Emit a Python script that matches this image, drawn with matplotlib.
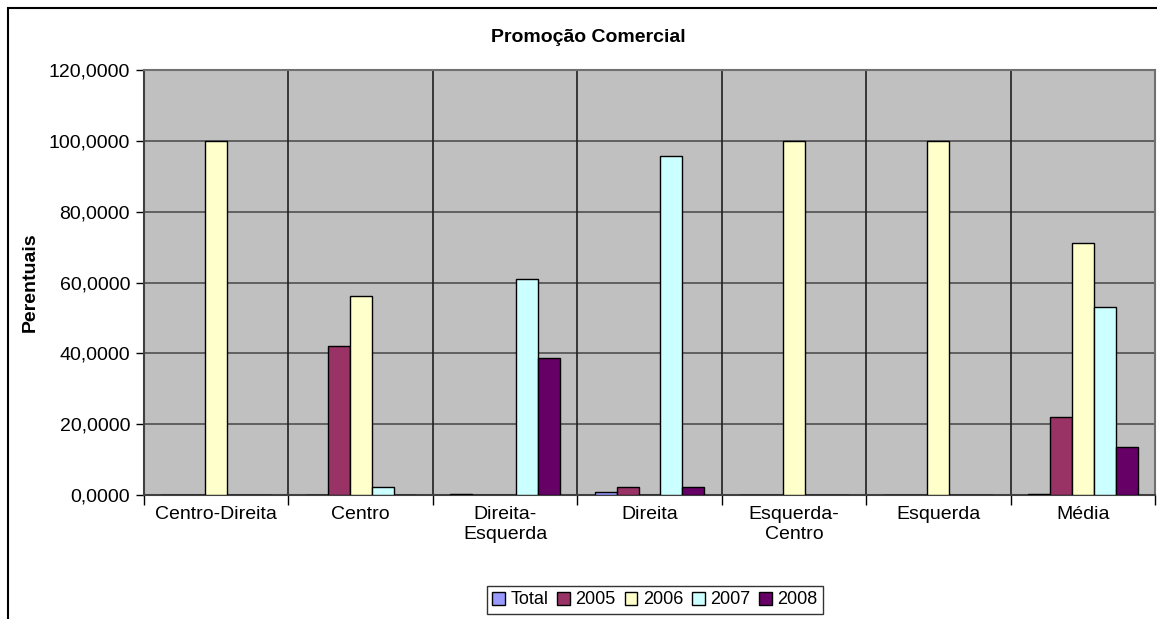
#!/usr/bin/env python3
"""Grouped bar chart: Promoção Comercial, percentages by category and year."""

import matplotlib
matplotlib.use("Agg")
import matplotlib.pyplot as plt
import numpy as np
from matplotlib.patches import Rectangle
from matplotlib.ticker import FuncFormatter

categories = ["Centro-Direita", "Centro", "Direita-\nEsquerda", "Direita",
              "Esquerda-\nCentro", "Esquerda", "Média"]
series_names = ["Total", "2005", "2006", "2007", "2008"]
total = [0.0, 0.0, 0.4, 0.9, 0.0, 0.0, 0.3]
y2005 = [0.0, 42.1, 0.0, 2.2, 0.0, 0.0, 21.9]
y2006 = [100.0, 56.3, 0.0, 0.0, 100.0, 100.0, 71.2]
y2007 = [0.0, 2.2, 61.0, 95.8, 0.0, 0.0, 53.1]
y2008 = [0.0, 0.0, 38.7, 2.2, 0.0, 0.0, 13.5]
yticks = [0, 20, 40, 60, 80, 100, 120]

colors = ["#9999FF", "#993366", "#FFFFCC", "#CCFFFF", "#660066"]

plt.rcParams["font.family"] = ["Liberation Sans", "DejaVu Sans"]

fig = plt.figure(figsize=(11.57, 6.19), dpi=100)
ax = fig.add_axes([144 / 1157, 1 - 495 / 619, 1011 / 1157, 425 / 619])
ax.set_facecolor("#C0C0C0")

x = np.arange(len(categories))
w = 0.152
for i, (name, vals) in enumerate(zip(series_names, [total, y2005, y2006, y2007, y2008])):
    ax.bar(x + (i - 2) * w, vals, width=w, color=colors[i], edgecolor="black",
           linewidth=1.0, label=name, zorder=3)

ax.set_xlim(-0.5, len(categories) - 0.5)
ax.set_ylim(0, 120)
ax.set_yticks(yticks)
ax.yaxis.set_major_formatter(FuncFormatter(lambda v, _: f"{v:.4f}".replace(".", ",")))
for v in yticks[1:-1]:
    ax.axhline(v, color="#505050", lw=1.2, zorder=1)
for b in np.arange(0.5, len(categories) - 0.5):
    ax.axvline(b, color="#202020", lw=1.2, zorder=1)

ax.set_xticks(x)
ax.set_xticklabels(categories, fontsize=14, linespacing=1.25)
ax.tick_params(axis="x", length=0, pad=8)
ax.set_xticks(np.arange(-0.5, len(categories)), minor=True)
ax.tick_params(axis="x", which="minor", length=7, width=1, color="black", direction="out")
ax.tick_params(axis="y", length=6, width=1, direction="out", labelsize=14, pad=4)
for s in ax.spines.values():
    s.set_color("#707070")
    s.set_linewidth(1.5)
ax.spines["left"].set_color("#404040")
ax.spines["bottom"].set_color("#404040")

ax.set_ylabel("Perentuais", fontsize=14, fontweight="bold")
ax.yaxis.set_label_coords(-0.104, 0.5)
fig.text(588 / 1157, 1 - 38 / 619, "Promoção Comercial", ha="center", va="center",
         fontsize=14, fontweight="bold")

leg = fig.legend(loc="center", bbox_to_anchor=(655 / 1157, 1 - 600 / 619), ncol=5,
                 fontsize=13, frameon=True, fancybox=False, handlelength=0.7,
                 handleheight=0.7, handletextpad=0.3, columnspacing=0.5,
                 borderpad=0.3, borderaxespad=0)
leg.get_frame().set_edgecolor("black")
leg.get_frame().set_linewidth(1.0)

# outer chart frame, running off the right and bottom edges
fig.patches.append(Rectangle((8 / 1157, -0.05), 1.1, 1 - 8 / 619 + 0.05,
                             transform=fig.transFigure, fill=False,
                             edgecolor="black", lw=1.5))

fig.savefig("out.png", dpi=100)
